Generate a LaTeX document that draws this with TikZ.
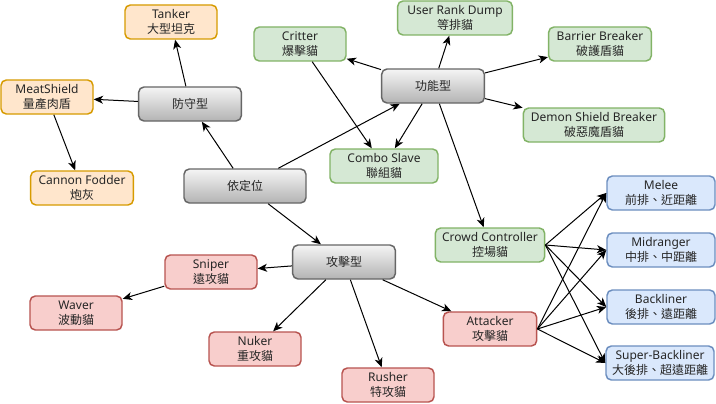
\documentclass[tikz,border=0pt]{standalone}
\usepackage{fontspec}
\setmainfont{Noto Sans}
\newfontfamily\cjk{Noto Sans CJK TC}
\usetikzlibrary{arrows.meta}
\definecolor{defFill}{HTML}{FFE6CC}
\definecolor{defLine}{HTML}{D79B00}
\definecolor{funFill}{HTML}{D5E8D4}
\definecolor{funLine}{HTML}{82B366}
\definecolor{atkFill}{HTML}{F8CECC}
\definecolor{atkLine}{HTML}{B85450}
\definecolor{posFill}{HTML}{DAE8FC}
\definecolor{posLine}{HTML}{6C8EBF}
\definecolor{grpTop}{HTML}{F5F5F5}
\definecolor{grpBot}{HTML}{B3B3B3}
\definecolor{grpLine}{HTML}{666666}
\newcommand{\cat}[2]{#1\\{\cjk #2}}

\begin{document}
\begin{tikzpicture}[x=0.75pt, y=-0.75pt,
    box/.style = {rounded corners=4pt, line width=1.1pt, align=center, inner sep=1pt,
                  minimum width=69pt, minimum height=25.5pt,
                  font=\fontsize{9}{11.5}\selectfont, text=black!85},
    group/.style = {box, draw=grpLine, top color=grpTop, bottom color=grpBot, minimum width=77pt, font=\cjk\fontsize{9}{11.5}\selectfont},
    defcat/.style = {box, draw=defLine, fill=defFill},
    funcat/.style = {box, draw=funLine, fill=funFill},
    atkcat/.style = {box, draw=atkLine, fill=atkFill},
    poscat/.style = {box, draw=posLine, fill=posFill, minimum width=81pt},
    link/.style = {-{Stealth[length=7pt, width=6pt, inset=2pt]}, line width=0.75pt}]

    \useasboundingbox [fill=white] (0,0) rectangle (716,403);

    % groups
    \node [group] (root) at (245,186) [minimum width=91.5pt] {依定位};
    \node [group] (def) at (190,104) {防守型};
    \node [group] (fun) at (433,86) {功能型};
    \node [group] (atk) at (344,262) {攻擊型};

    % defence
    \node [defcat] (tanker) at (171,22) {\cat{Tanker}{大型坦克}};
    \node [defcat] (meat) at (47,97) {\cat{MeatShield}{量產肉盾}};
    \node [defcat] (fodder) at (82,188) [minimum width=77pt] {\cat{Cannon Fodder}{炮灰}};

    % function
    \node [funcat] (critter) at (300,44) {\cat{Critter}{爆擊貓}};
    \node [funcat] (dump) at (455,18) [minimum width=86pt] {\cat{User Rank Dump}{等排貓}};
    \node [funcat] (barrier) at (600,44) [minimum width=77pt] {\cat{Barrier Breaker}{破護盾貓}};
    \node [funcat] (demon) at (594,125) [minimum width=106pt] {\cat{Demon Shield Breaker}{破惡魔盾貓}};
    \node [funcat] (combo) at (384,166) [minimum width=81pt] {\cat{Combo Slave}{聯組貓}};
    \node [funcat] (crowd) at (490,245) [minimum width=82pt] {\cat{Crowd Controller}{控場貓}};

    % attack
    \node [atkcat] (sniper) at (211,272) {\cat{Sniper}{遠攻貓}};
    \node [atkcat] (waver) at (76,313) {\cat{Waver}{波動貓}};
    \node [atkcat] (nuker) at (255,349) {\cat{Nuker}{重攻貓}};
    \node [atkcat] (rusher) at (388,385) {\cat{Rusher}{特攻貓}};
    \node [atkcat] (attacker) at (490,329) [minimum width=70pt] {\cat{Attacker}{攻擊貓}};

    % positions
    \node [poscat] (melee) at (661,193) {\cat{Melee}{前排、近距離}};
    \node [poscat] (mid) at (661,250) {\cat{Midranger}{中排、中距離}};
    \node [poscat] (back) at (661,307) {\cat{Backliner}{後排、遠距離}};
    \node [poscat] (super) at (660,363) {\cat{Super-Backliner}{大後排、超遠距離}};

    \draw [link] (root) -- (def);
    \draw [link] (root) -- (fun);
    \draw [link] (root) -- (atk);

    \draw [link] (def) -- (tanker);
    \draw [link] (def) -- (meat);
    \draw [link] (meat) -- (fodder);

    \draw [link] (fun) -- (critter);
    \draw [link] (fun) -- (dump);
    \draw [link] (fun) -- (barrier);
    \draw [link] (fun) -- (demon);
    \draw [link] (fun) -- (combo);
    \draw [link] (fun) -- (crowd);
    \draw [link] (critter) -- (combo);

    \draw [link] (atk) -- (sniper);
    \draw [link] (atk) -- (nuker);
    \draw [link] (atk) -- (rusher);
    \draw [link] (atk) -- (attacker);
    \draw [link] (sniper) -- (waver);

    \foreach \p in {melee, mid, back, super} {
        \draw [link] (crowd.east) -- (\p.west);
        \draw [link] (attacker.east) -- (\p.west);
    }

\end{tikzpicture}
\end{document}
